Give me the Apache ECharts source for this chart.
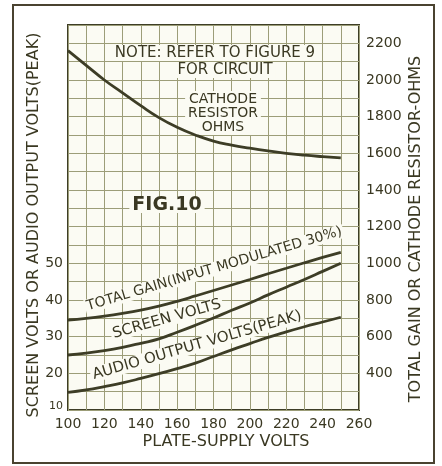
<!DOCTYPE html>
<html>
<head>
<meta charset="utf-8">
<script src="https://cdn.jsdelivr.net/npm/echarts@6/dist/echarts.min.js"></script>
<style>
    html, body { margin: 0; padding: 0; background: #ffffff; }
    #chart { width: 442px; height: 466px; }
</style>
</head>
<body>
<div id="chart"></div>
<script>
    // 数据
    const plateVolts = [100, 110, 120, 130, 140, 150, 160, 170, 180, 190, 200, 210, 220, 230, 240, 250];
    const cathodeOhms = [2160, 2080, 2000, 1930, 1860, 1795, 1742, 1700, 1667, 1645, 1628, 1613, 1600, 1590, 1582, 1575];
    const totalGain = [691, 700, 712, 727, 745, 767, 793, 822, 852, 882, 912, 943, 973, 1003, 1032, 1060];
    const screenVolts = [25.0, 25.5, 26.2, 27.1, 28.2, 29.4, 31.2, 33.1, 35.1, 37.2, 39.2, 41.4, 43.5, 45.6, 47.8, 50.0];
    const audioVolts = [14.8, 15.5, 16.4, 17.4, 18.6, 19.9, 21.3, 22.8, 24.6, 26.4, 28.1, 29.8, 31.3, 32.7, 34.0, 35.3];
    const leftTicks = [10, 20, 30, 40, 50];
    const rightTicks = [400, 600, 800, 1000, 1200, 1400, 1600, 1800, 2000, 2200];

    const ink = '#3a3822';
    const paper = '#fbfbf3';
    const gridColor = '#9c9d78';
    const font = 'DejaVu Sans';

    const pair = arr => plateVolts.map((v, i) => [v, arr[i]]);

    const lineSeries = (name, arr, axis) => ({
        name,
        type: 'line',
        yAxisIndex: axis,
        smooth: true,
        showSymbol: false,
        silent: true,
        lineStyle: { color: '#3d3d26', width: 2.8 },
        data: pair(arr)
    });

    const label = (text, x, y, deg, size) => ({
        type: 'text',
        x,
        y,
        z: 1,
        rotation: deg * Math.PI / 180,
        style: {
            text,
            fill: ink,
            font: `${size}px "${font}"`,
            textAlign: 'left',
            textVerticalAlign: 'bottom',
            backgroundColor: paper,
            padding: [0, 2]
        }
    });

    const note = (text, x, y, size, bold) => ({
        type: 'text',
        x,
        y,
        z: 1,
        style: {
            text,
            fill: ink,
            font: `${bold ? 'bold ' : ''}${size}px "${font}"`,
            textAlign: 'center',
            textVerticalAlign: 'middle',
            lineHeight: 14,
            backgroundColor: paper,
            padding: [1, 3]
        }
    });

    const axisTitle = (text, x, y, vertical) => ({
        type: 'text',
        x,
        y,
        rotation: vertical ? Math.PI / 2 : 0,
        style: {
            text,
            fill: ink,
            font: `16px "${font}"`,
            textAlign: 'center',
            textVerticalAlign: 'middle'
        }
    });

    const chart = echarts.init(document.getElementById('chart'));

    const option = {
        backgroundColor: '#ffffff',
        animation: false,
        grid: {
            left: 68,
            top: 25,
            width: 291,
            height: 385,
            show: true,
            backgroundColor: paper,
            borderColor: '#3d3d26',
            borderWidth: 2
        },
        xAxis: {
            type: 'value',
            min: 100,
            max: 260,
            interval: 20,
            axisLine: { show: false },
            axisTick: { show: false },
            axisLabel: { color: ink, fontFamily: font, fontSize: 14, margin: 7 },
            splitLine: { lineStyle: { color: gridColor, width: 1 } },
            minorTick: { show: false, splitNumber: 2 },
            minorSplitLine: { show: true, lineStyle: { color: gridColor, width: 1 } }
        },
        yAxis: [
            {
                type: 'value',
                min: 10,
                max: 115,
                interval: 5,
                axisLine: { show: false },
                axisTick: { show: false },
                axisLabel: {
                    color: ink,
                    fontFamily: font,
                    fontSize: 14,
                    margin: 5,
                    formatter: v => (v === 10 ? '{s|10}' : (leftTicks.includes(v) ? String(v) : '')),
                    rich: { s: { fontSize: 11, fontFamily: font, color: ink, padding: [0, 0, 8, 0] } }
                },
                splitLine: { lineStyle: { color: gridColor, width: 1 } }
            },
            {
                type: 'value',
                min: 200,
                max: 2300,
                interval: 100,
                position: 'right',
                axisLine: { show: false },
                axisTick: { show: false },
                axisLabel: {
                    color: ink,
                    fontFamily: font,
                    fontSize: 14,
                    margin: 7,
                    formatter: v => (rightTicks.includes(v) ? String(v) : '')
                },
                splitLine: { show: false }
            }
        ],
        series: [
            lineSeries('CATHODE RESISTOR OHMS', cathodeOhms, 1),
            lineSeries('TOTAL GAIN', totalGain, 1),
            lineSeries('SCREEN VOLTS', screenVolts, 0),
            lineSeries('AUDIO OUTPUT VOLTS (PEAK)', audioVolts, 0)
        ],
        graphic: [
            // 外框
            {
                type: 'rect',
                z: 5,
                shape: { x: 13, y: 5, width: 421, height: 458 },
                style: { fill: 'none', stroke: '#4a4330', lineWidth: 2 }
            },
            // 坐标轴标题
            axisTitle('SCREEN VOLTS OR AUDIO OUTPUT VOLTS(PEAK)', 34, 225, true),
            axisTitle('TOTAL GAIN OR CATHODE RESISTOR-OHMS', 416, 229, true),
            axisTitle('PLATE-SUPPLY VOLTS', 226, 442, false),
            // 注释
            note('NOTE: REFER TO FIGURE 9', 215, 53, 15),
            note('FOR CIRCUIT', 225, 70, 15),
            note('CATHODE\nRESISTOR\nOHMS', 223, 113, 14),
            note('FIG.10', 167, 205, 19, true),
            // 曲线标签
            label('TOTAL GAIN(INPUT MODULATED 30%)', 87, 314, 16.5, 14),
            label('SCREEN VOLTS', 113, 342, 15.7, 15),
            label('AUDIO OUTPUT VOLTS(PEAK)', 93, 383, 16, 15)
        ]
    };

    chart.setOption(option);
</script>
</body>
</html>
